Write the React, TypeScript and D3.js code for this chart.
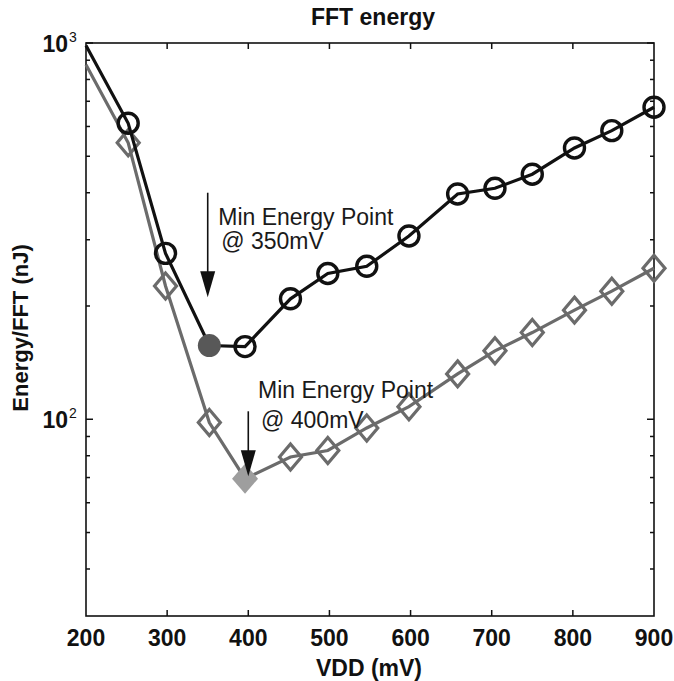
import { useEffect, useRef } from 'react';
import * as d3 from 'd3';

// VDD (mV)
const vdd = [200, 252, 298, 352, 396, 452, 498, 546, 598, 658, 704, 750, 802, 848, 900];
// Energy/FFT (nJ), black circles
const energyA = [985, 612, 276, 157, 156, 209, 244, 255, 307, 397, 411, 448, 526, 585, 675];
// Energy/FFT (nJ), gray diamonds
const energyB = [875, 543, 226, 98, 69.5, 79.4, 82.6, 94.8, 108, 132, 152, 170, 195, 219, 252];

const xTicks = [200, 300, 400, 500, 600, 700, 800, 900];
const yMajor = [100, 1000];
const yMinor = [40, 50, 60, 70, 80, 90, 200, 300, 400, 500, 600, 700, 800, 900];

const notes = [
  { x: 350, y0: 400, y1: 211, tx: 363, ty: 329, lines: ['Min Energy Point', '@ 350mV'], gap: 24 },
  { x: 400, y0: 105, y1: 70.6, tx: 412, ty: 114, lines: ['Min Energy Point', '@ 400mV'], gap: 30 },
];

const W = 674;
const H = 681;

const Chart = () => {
  const ref = useRef<SVGSVGElement>(null);

  useEffect(() => {
    const svg = d3.select(ref.current);
    svg.selectAll('*').remove();

    const left = 86, right = 654, top = 43, bottom = 616;
    const x = d3.scaleLinear().domain([200, 900]).range([left, right]);
    const y = d3.scaleLog().domain([30, 1000]).range([bottom, top]);
    const font = 'Liberation Sans, Arial, Helvetica, sans-serif';

    // frame
    svg.append('rect')
      .attr('x', left).attr('y', top)
      .attr('width', right - left).attr('height', bottom - top)
      .attr('fill', 'none').attr('stroke', '#111').attr('stroke-width', 1.6);

    const ticks = svg.append('g').attr('stroke', '#111').attr('stroke-width', 1.5);
    xTicks.slice(1, -1).forEach((v) => {
      ticks.append('line').attr('x1', x(v)).attr('x2', x(v)).attr('y1', bottom).attr('y2', bottom - 6);
      ticks.append('line').attr('x1', x(v)).attr('x2', x(v)).attr('y1', top).attr('y2', top + 6);
    });
    yMinor.forEach((v) => {
      ticks.append('line').attr('x1', left).attr('x2', left + 4).attr('y1', y(v)).attr('y2', y(v));
      ticks.append('line').attr('x1', right).attr('x2', right - 4).attr('y1', y(v)).attr('y2', y(v));
    });
    yMajor.forEach((v) => {
      ticks.append('line').attr('x1', left).attr('x2', left + 7).attr('y1', y(v)).attr('y2', y(v));
      ticks.append('line').attr('x1', right).attr('x2', right - 7).attr('y1', y(v)).attr('y2', y(v));
    });

    // x tick labels
    svg.append('g').selectAll('text').data(xTicks).join('text')
      .attr('x', (d) => x(d)).attr('y', 646)
      .attr('text-anchor', 'middle')
      .attr('font-family', font).attr('font-weight', 'bold').attr('font-size', 23)
      .attr('fill', '#111')
      .text((d) => d);

    // y tick labels 10^2, 10^3
    yMajor.forEach((v) => {
      const g = svg.append('g').attr('fill', '#111').attr('font-family', font);
      g.append('text').attr('x', 68).attr('y', y(v) + 9)
        .attr('text-anchor', 'end').attr('font-weight', 'bold').attr('font-size', 23)
        .text('10');
      g.append('text').attr('x', 69).attr('y', y(v) - 1)
        .attr('font-size', 14)
        .text(Math.round(Math.log10(v)));
    });

    // titles
    svg.append('text').attr('x', 373).attr('y', 25)
      .attr('text-anchor', 'middle').attr('font-family', font)
      .attr('font-weight', 'bold').attr('font-size', 23).attr('fill', '#111')
      .text('FFT energy');
    svg.append('text').attr('x', 369).attr('y', 676)
      .attr('text-anchor', 'middle').attr('font-family', font)
      .attr('font-weight', 'bold').attr('font-size', 23).attr('fill', '#111')
      .text('VDD (mV)');
    svg.append('text')
      .attr('transform', 'translate(28,328) rotate(-90)')
      .attr('text-anchor', 'middle').attr('font-family', font)
      .attr('font-weight', 'bold').attr('font-size', 22).attr('fill', '#111')
      .text('Energy/FFT (nJ)');

    const line = d3.line<number>().x((_, i) => x(vdd[i])).y((d) => y(d));

    // gray diamonds series
    const grayC = '#6b6b6b';
    svg.append('path').datum(energyB).attr('d', line)
      .attr('fill', 'none').attr('stroke', grayC).attr('stroke-width', 3.2);
    const diamond = (hw: number, hh: number) => `M0,${-hh}L${hw},0L0,${hh}L${-hw},0Z`;
    svg.append('g').selectAll('path').data(energyB.slice(1)).join('path')
      .attr('transform', (d, i) => `translate(${x(vdd[i + 1])},${y(d)})`)
      .attr('d', (_, i) => (i === 3 ? diamond(13, 15) : diamond(11, 13)))
      .attr('fill', (_, i) => (i === 3 ? '#9e9e9e' : 'none'))
      .attr('stroke', (_, i) => (i === 3 ? 'none' : grayC))
      .attr('stroke-width', 3.2);

    // black circles series
    svg.append('path').datum(energyA).attr('d', line)
      .attr('fill', 'none').attr('stroke', '#111').attr('stroke-width', 3.2);
    svg.append('g').selectAll('circle').data(energyA.slice(1)).join('circle')
      .attr('cx', (_, i) => x(vdd[i + 1])).attr('cy', (d) => y(d))
      .attr('r', (_, i) => (i === 2 ? 11.5 : 10))
      .attr('fill', (_, i) => (i === 2 ? '#585858' : 'none'))
      .attr('stroke', (_, i) => (i === 2 ? 'none' : '#111'))
      .attr('stroke-width', 3.4);

    // annotations
    notes.forEach((n) => {
      const ax = x(n.x);
      const yTip = y(n.y1);
      svg.append('line').attr('x1', ax).attr('x2', ax)
        .attr('y1', y(n.y0)).attr('y2', yTip - 20)
        .attr('stroke', '#111').attr('stroke-width', 1.6);
      svg.append('path')
        .attr('d', `M${ax - 7.5},${yTip - 26}L${ax + 7.5},${yTip - 26}L${ax},${yTip}Z`)
        .attr('fill', '#111');
      const t = svg.append('text').attr('font-family', font).attr('font-size', 23).attr('fill', '#1a1a1a');
      n.lines.forEach((s, i) => {
        t.append('tspan').attr('x', x(n.tx) + (i ? 3 : 0)).attr('y', y(n.ty) + i * n.gap).text(s);
      });
    });
  }, []);

  return (
    <svg
      ref={ref}
      width={W}
      height={H}
      style={{ position: 'absolute', left: 0, top: 0, background: '#fff' }}
    />
  );
};

export default function App() {
  return (
    <div>
      <Chart />
    </div>
  );
}
